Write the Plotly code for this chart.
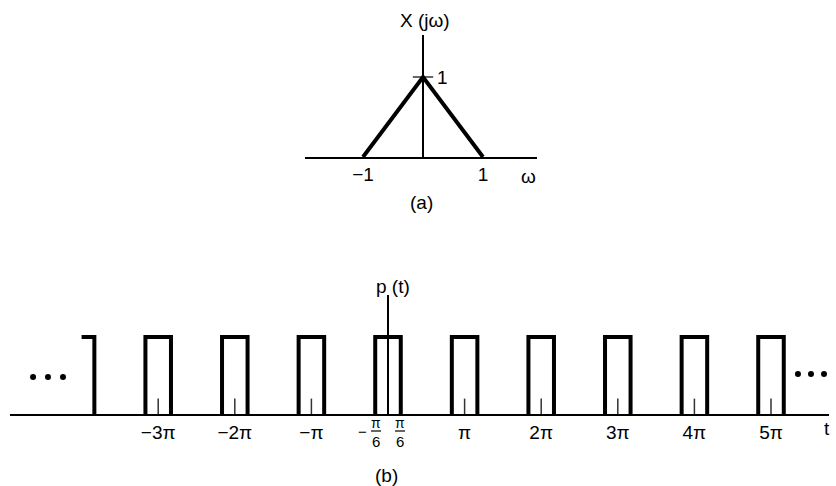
import plotly.graph_objects as go

# ---- Panel (a): X(jw) triangle ----
tri_w = [-1, 0, 1]
tri_x = [0, 1, 0]
a_ticks = [-1, 1]
a_ticklabels = ["\u22121", "1"]

# ---- Panel (b): periodic pulse train p(t), t in units of pi ----
pulse_centers = [-3, -2, -1, 0, 1, 2, 3, 4, 5]
half_width = 1 / 6
partial_center = -4
pulse_height = 1
b_ticks = [-3, -2, -1, 1, 2, 3, 4, 5]
b_ticklabels = ["\u22123\u03c0", "\u22122\u03c0", "\u2212\u03c0", "\u03c0",
                "2\u03c0", "3\u03c0", "4\u03c0", "5\u03c0"]
small_tick_height = 0.2
dots_left_t = [-4.634, -4.439, -4.243]
dots_right_t = [5.352, 5.522, 5.692]
dots_left_y = 0.48
dots_right_y = 0.52

FONT = "Liberation Sans, Arial, sans-serif"
FS = 19
W, H = 836, 486

fig = go.Figure()

# triangle
fig.add_trace(go.Scatter(x=tri_w, y=tri_x, mode="lines",
                         line=dict(color="black", width=4),
                         xaxis="x", yaxis="y", hoverinfo="skip"))
# tick mark at 1
fig.add_trace(go.Scatter(x=[-0.17, 0.17], y=[1, 1], mode="lines",
                         line=dict(color="black", width=1.2),
                         xaxis="x", yaxis="y", hoverinfo="skip"))

# pulses
px, py = [], []
for c in pulse_centers:
    px += [c - half_width, c - half_width, c + half_width, c + half_width, None]
    py += [0, pulse_height, pulse_height, 0, None]
px += [partial_center, partial_center + half_width, partial_center + half_width, None]
py += [pulse_height, pulse_height, 0, None]
fig.add_trace(go.Scatter(x=px, y=py, mode="lines",
                         line=dict(color="black", width=4),
                         xaxis="x2", yaxis="y2", hoverinfo="skip"))
# small ticks inside pulses
tx, ty = [], []
for c in b_ticks:
    tx += [c, c, None]
    ty += [0, small_tick_height, None]
fig.add_trace(go.Scatter(x=tx, y=ty, mode="lines",
                         line=dict(color="#333", width=1.5),
                         xaxis="x2", yaxis="y2", hoverinfo="skip"))
# dots
fig.add_trace(go.Scatter(x=dots_left_t + dots_right_t,
                         y=[dots_left_y] * 3 + [dots_right_y] * 3,
                         mode="markers", marker=dict(color="black", size=6),
                         xaxis="x2", yaxis="y2", hoverinfo="skip"))

# pixel geometry helpers
def pxx(p):
    return p / W

def pxy(p):
    return 1 - p / H

a_x0, a_x1 = 305, 537
a_ppu = 60
a_zero = 423
a_yb, a_yt = 157, 35
a_ppy = 80

b_x0, b_x1 = 10, 829
b_ppu = 76.6
b_zero = 388
b_yb, b_yt = 414, 295
b_ppy = 77

axis_common = dict(showgrid=False, ticks="", color="black",
                   tickfont=dict(family=FONT, size=FS, color="black"))

fig.update_layout(
    width=W, height=H, margin=dict(l=0, r=0, t=0, b=0),
    plot_bgcolor="white", paper_bgcolor="white", showlegend=False,
    xaxis=dict(domain=[pxx(a_x0), pxx(a_x1)],
               range=[(a_x0 - a_zero) / a_ppu, (a_x1 - a_zero) / a_ppu],
               showline=True, linecolor="black", linewidth=1.5,
               zeroline=True, zerolinecolor="black", zerolinewidth=1.2,
               tickvals=a_ticks, ticktext=a_ticklabels, anchor="y",
               **axis_common),
    yaxis=dict(domain=[pxy(a_yb), pxy(a_yt)],
               range=[0, (a_yb - a_yt) / a_ppy], visible=False, anchor="x"),
    xaxis2=dict(domain=[pxx(b_x0), pxx(b_x1)],
                range=[(b_x0 - b_zero) / b_ppu, (b_x1 - b_zero) / b_ppu],
                showline=True, linecolor="black", linewidth=1.8,
                zeroline=True, zerolinecolor="black", zerolinewidth=1.2,
                tickvals=b_ticks, ticktext=b_ticklabels, anchor="y2",
                **axis_common),
    yaxis2=dict(domain=[pxy(b_yb), pxy(b_yt)],
                range=[0, (b_yb - b_yt) / b_ppy], visible=False, anchor="x2"),
)

ann = []
def A(text, x, y, size=FS, xanchor="center", yanchor="middle"):
    ann.append(dict(text=text, x=x, y=y, xref="paper", yref="paper", showarrow=False,
                    xanchor=xanchor, yanchor=yanchor,
                    font=dict(family=FONT, size=size, color="black")))

A("X (j\u03c9)", pxx(425), pxy(20))
A("1", pxx(435), pxy(77), xanchor="left")
A("\u03c9", pxx(528), pxy(176))
A("(a)", pxx(421), pxy(202))
A("p (t)", pxx(393), pxy(286))
A("t", pxx(827), pxy(428))
A("(b)", pxx(386), pxy(475))
# fractions -pi/6 and pi/6
for xc in [376, 400]:
    A("\u03c0", pxx(xc), pxy(423), size=14)
    A("6", pxx(xc), pxy(441), size=15)
A("\u2212", pxx(362), pxy(431), size=15)
fig.update_layout(annotations=ann)

shapes = []
for xc in [376, 400]:
    shapes.append(dict(type="line", xref="paper", yref="paper",
                       x0=pxx(xc - 5), x1=pxx(xc + 5), y0=pxy(431), y1=pxy(431),
                       line=dict(color="black", width=1.2)))
fig.update_layout(shapes=shapes)

fig.write_html("out.html",
               config={"displayModeBar": False, "staticPlot": True},
               post_script="document.body.style.margin='0px';document.body.style.overflow='hidden';")
